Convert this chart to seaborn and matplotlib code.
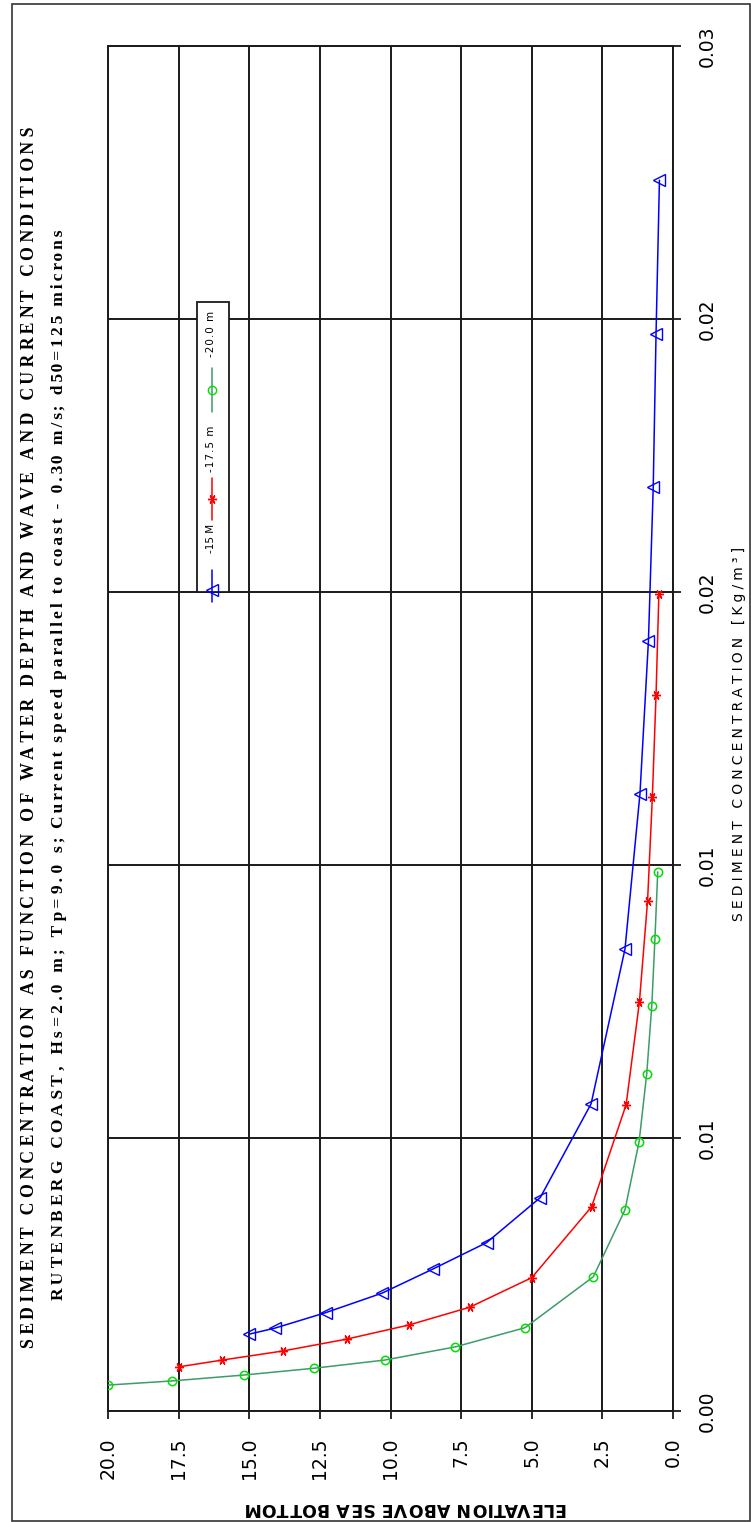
import matplotlib
matplotlib.use("Agg")
import matplotlib.pyplot as plt
import seaborn as sns
import numpy as np
import pandas as pd
from matplotlib.ticker import FixedLocator, FormatStrFormatter
from matplotlib.lines import Line2D
from matplotlib.patches import Rectangle
from matplotlib.font_manager import FontProperties

# ---------------- data ----------------
series_names = ["-15 M", "-17.5 m", "-20.0 m"]

elev_15 = [15.0, 14.1, 12.3, 10.3, 8.5, 6.6, 4.7, 2.9, 1.7, 1.17, 0.87, 0.70, 0.60, 0.48]
conc_15 = [0.00169, 0.00182, 0.00216, 0.00259, 0.00312, 0.00370, 0.00469, 0.00675,
           0.01015, 0.01356, 0.01692, 0.02030, 0.02368, 0.02705]

elev_17 = [17.5, 15.95, 13.8, 11.55, 9.35, 7.2, 5.0, 2.88, 1.66, 1.19, 0.90, 0.73, 0.60, 0.50]
conc_17 = [0.00097, 0.00112, 0.00132, 0.00158, 0.00189, 0.00228, 0.00293, 0.00449,
           0.00673, 0.00898, 0.01121, 0.01350, 0.01574, 0.01796]

elev_20 = [20.0, 17.75, 15.2, 12.7, 10.2, 7.7, 5.24, 2.82, 1.70, 1.20, 0.93, 0.75, 0.64, 0.54]
conc_20 = [0.00057, 0.00066, 0.00079, 0.00094, 0.00112, 0.00141, 0.00183, 0.00295,
           0.00442, 0.00592, 0.00741, 0.00891, 0.01037, 0.01185]

elev_ticks = [0.0, 2.5, 5.0, 7.5, 10.0, 12.5, 15.0, 17.5, 20.0]
conc_ticks = [0.0, 0.006, 0.012, 0.018, 0.024, 0.030]

title_1 = "SEDIMENT CONCENTRATION AS FUNCTION OF WATER DEPTH AND WAVE AND CURRENT CONDITIONS"
title_2a = "RUTENBERG COAST, Hs=2.0 m; Tp=9.0 s;"
title_2b = "Current speed parallel to coast - 0.30 m/s; d50=125 microns"
x_label = "ELEVATION ABOVE SEA BOTTOM"
y_label = "SEDIMENT CONCENTRATION [Kg/m\u00b3]"

# ---------------- figure ----------------
W, H, DPI = 751, 1522, 100
sns.set_style("white")
plt.rcParams["font.family"] = ["DejaVu Sans"]
plt.rcParams["text.color"] = "black"
plt.rcParams["xtick.color"] = "black"
plt.rcParams["ytick.color"] = "black"
plt.rcParams["xtick.labelcolor"] = "black"
plt.rcParams["ytick.labelcolor"] = "black"

fig = plt.figure(figsize=(W / DPI, H / DPI), dpi=DPI)
fig.patch.set_facecolor("white")


def fx(px):
    return px / W


def fy(py):
    return 1 - py / H


ax = fig.add_axes([fx(108), fy(1411), fx(673) - fx(108), fy(46) - fy(1411)])

BLUE, RED, GREEN_LINE, GREEN_MK = "#0000ff", "#ff0000", "#3f9a6c", "#00e000"
ASTER = (6, 2, 90)

df15 = pd.DataFrame({"elev": elev_15, "conc": conc_15})
df17 = pd.DataFrame({"elev": elev_17, "conc": conc_17})
df20 = pd.DataFrame({"elev": elev_20, "conc": conc_20})

sns.lineplot(data=df15, x="elev", y="conc", ax=ax, sort=False, estimator=None,
             color=BLUE, lw=1.1, marker="<", ms=8, mfc="none", mec=BLUE, mew=1.0, zorder=3)
sns.lineplot(data=df17, x="elev", y="conc", ax=ax, sort=False, estimator=None,
             color=RED, lw=1.1, marker=ASTER, ms=6.5, mec=RED, mew=1.0, zorder=3)
sns.lineplot(data=df20, x="elev", y="conc", ax=ax, sort=False, estimator=None,
             color=GREEN_LINE, lw=1.1, marker="o", ms=6, mfc="none", mec=GREEN_MK, mew=1.1, zorder=3)

ax.set_xlim(20, 0)
ax.set_ylim(0, 0.03)
ax.set_xlabel("")
ax.set_ylabel("")
ax.xaxis.set_major_locator(FixedLocator(elev_ticks))
ax.xaxis.set_major_formatter(FormatStrFormatter("%.1f"))
ax.yaxis.set_major_locator(FixedLocator(conc_ticks))
ax.yaxis.set_major_formatter(FormatStrFormatter("%.2f"))
ax.yaxis.tick_right()
ax.set_axisbelow(True)
ax.grid(True, color="#1a1a1a", lw=1.4)
for s in ax.spines.values():
    s.set_visible(True)
    s.set_color("#1a1a1a")
    s.set_linewidth(1.4)

ax.tick_params(axis="x", direction="out", length=5.8, width=1.3, color="#1a1a1a",
               pad=13, labelsize=13.5, labelrotation=90, bottom=True, labelcolor="black")
ax.tick_params(axis="y", direction="out", length=5.8, width=1.3, color="#1a1a1a",
               pad=12, labelsize=13.5, right=True, left=False,
               labelright=True, labelleft=False, labelcolor="black")
for lab in ax.get_yticklabels():
    lab.set_rotation(90)
    lab.set_va("center")
    lab.set_ha("left")

renderer = fig.canvas.get_renderer()


def tracked(text, prop, target_px):
    """Spread characters with hair spaces so the string spans target_px."""
    hs = "\u200a"
    w_plain = renderer.get_text_width_height_descent(text, prop, ismath=False)[0]
    w_hs = (renderer.get_text_width_height_descent("a" + hs * 10 + "a", prop, ismath=False)[0]
            - renderer.get_text_width_height_descent("aa", prop, ismath=False)[0]) / 10.0
    gaps = len(text) - 1
    if w_hs <= 0 or gaps <= 0:
        return text
    total = max(0, int(round((target_px - w_plain) / w_hs)))
    out = text[0]
    for i, ch in enumerate(text[1:], 1):
        n = int(round(total * i / gaps)) - int(round(total * (i - 1) / gaps))
        out += hs * n + ch
    return out


serif = ["Liberation Serif", "DejaVu Serif"]

p_t1 = FontProperties(family=serif, weight="bold", size=12.8)
fig.text(fx(30), fy(1348), tracked(title_1, p_t1, 1348 - 140), fontproperties=p_t1,
         rotation=90, ha="center", va="bottom", color="black")
p_t2 = FontProperties(family=serif, weight="bold", size=12.5)
fig.text(fx(59), fy(1300), tracked(title_2a, p_t2, 1300 - 838), fontproperties=p_t2,
         rotation=90, ha="center", va="bottom", color="black")
fig.text(fx(59), fy(828), tracked(title_2b, p_t2, 828 - 230), fontproperties=p_t2,
         rotation=90, ha="center", va="bottom", color="black")

p_xl = FontProperties(family=["DejaVu Sans"], weight="bold", size=12.5)
fig.text(fx(406), fy(1508), tracked(x_label, p_xl, 323), fontproperties=p_xl,
         rotation=180, ha="center", va="center", color="black")

p_yl = FontProperties(family=["DejaVu Sans"], size=10)
fig.text(fx(739), fy(734), tracked(y_label, p_yl, 372), fontproperties=p_yl,
         rotation=90, ha="center", va="center", color="black")

# ---------------- legend (rotated, drawn by hand) ----------------
fig.add_artist(Rectangle((fx(197), fy(592)), fx(229) - fx(197), fy(302) - fy(592),
                         transform=fig.transFigure, facecolor="white",
                         edgecolor="#1a1a1a", lw=1.3, zorder=5))
leg_styles = [
    dict(color=BLUE, marker="<", ms=8, mfc="none", mec=BLUE, seg=(570, 602), mk=590, txt=553),
    dict(color=RED, marker=ASTER, ms=6.5, mfc=RED, mec=RED, seg=(478, 520), mk=499, txt=472),
    dict(color=GREEN_LINE, marker="o", ms=6, mfc="none", mec=GREEN_MK, seg=(368, 412), mk=390, txt=357),
]
p_lg = FontProperties(family=["DejaVu Sans"], size=7.5)
for name, st in zip(series_names, leg_styles):
    fig.add_artist(Line2D([fx(212), fx(212)], [fy(st["seg"][0]), fy(st["seg"][1])],
                          transform=fig.transFigure, color=st["color"], lw=1.1, zorder=6))
    fig.add_artist(Line2D([fx(212)], [fy(st["mk"])], transform=fig.transFigure,
                          marker=st["marker"], ms=st["ms"], mfc=st["mfc"], mec=st["mec"],
                          mew=1.0, lw=0, zorder=7))
    fig.text(fx(211), fy(st["txt"]), tracked(name, p_lg, {"-15 M": 26}.get(name, 46)),
             fontproperties=p_lg, rotation=90, ha="center", va="bottom", zorder=8,
             color="black")

# outer frame
fig.add_artist(Rectangle((fx(12), fy(1521)), fx(750) - fx(12), fy(4) - fy(1521),
                         transform=fig.transFigure, fill=False, edgecolor="#333333", lw=1.2))

fig.savefig("out.png", dpi=DPI)
